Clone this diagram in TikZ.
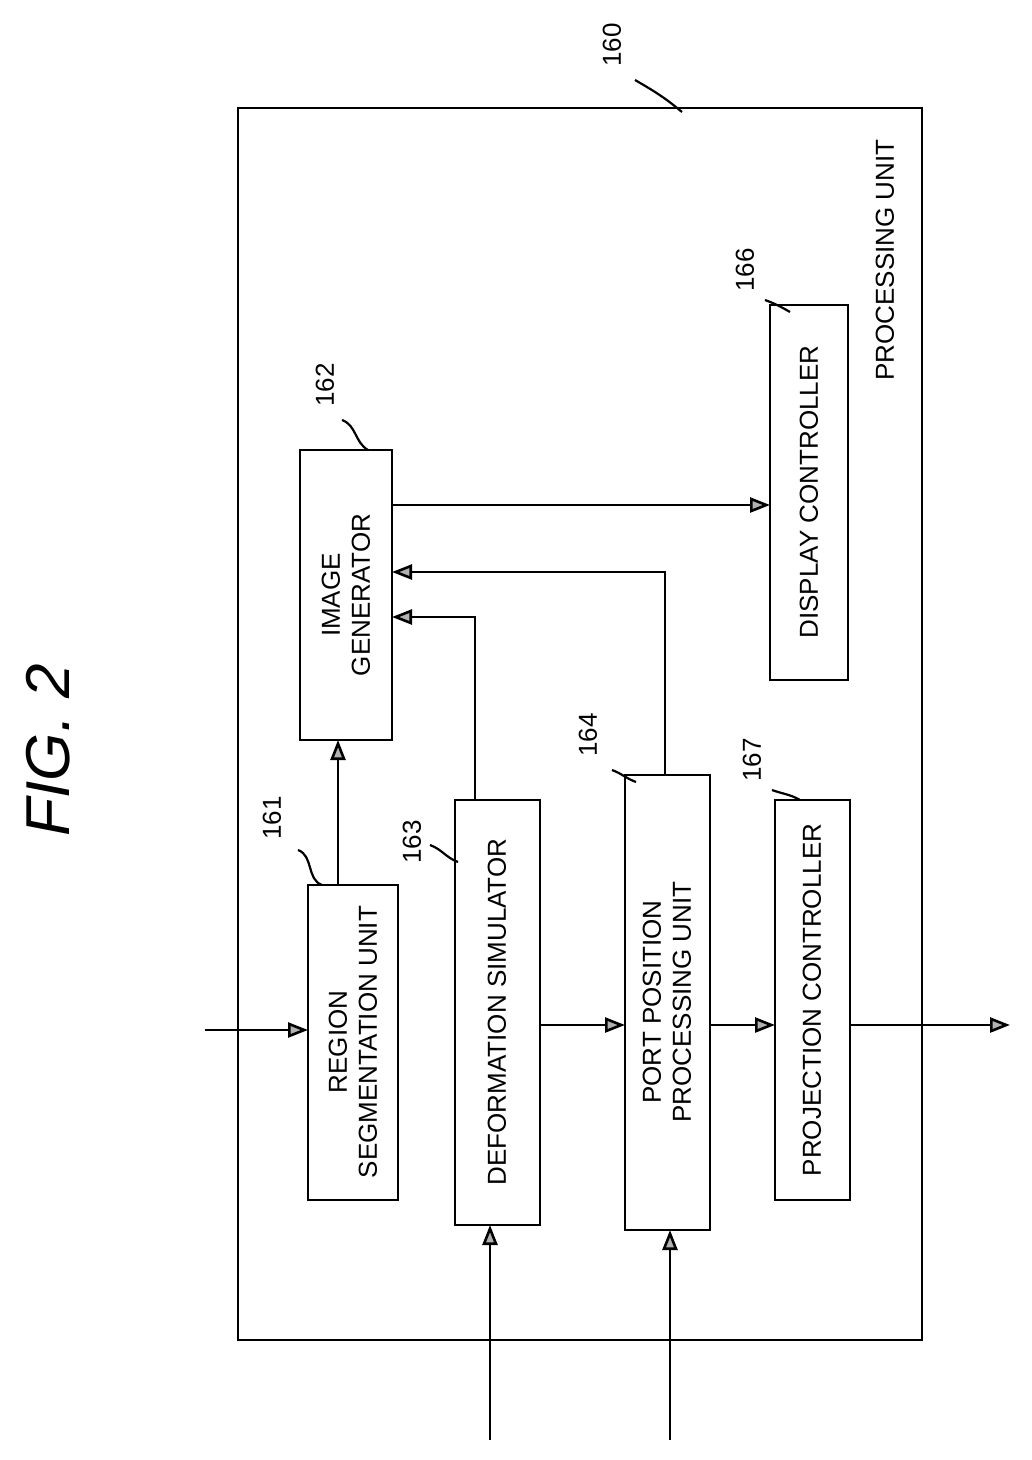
\documentclass[tikz,border=0pt]{standalone}
\usepackage{fontspec}
\setmainfont{Liberation Sans}
\usetikzlibrary{arrows.meta}
\begin{document}
\begin{tikzpicture}[x=1pt,y=-1pt,
  blk/.style={draw,line width=2.8pt},
  txt/.style={rotate=90,align=center,font=\fontsize{26}{30}\selectfont},
  num/.style={rotate=90,font=\fontsize{26}{30}\selectfont},
  lead/.style={line width=2.2pt},
  flow/.style={line width=2.6pt,-{Triangle[fill=gray!60,length=20pt,width=15pt]}}
  ]
  \useasboundingbox (0,0) rectangle (1032,1460);
  \node[rotate=90,font=\itshape\fontsize{62}{66}\selectfont] (fig) at (48,750) {FIG. 2};
  % outer unit
  \draw[blk] (238,108) rectangle (922,1340);
  \node[txt] (pu) at (885,260) {PROCESSING UNIT};
  \node[num] (n160) at (612,45) {160};
  \draw[lead] (635,80) to[out=-30,in=140] (682,112);
  % blocks
  \draw[blk] (308,885) rectangle (398,1200);
  \node[txt] (seg) at (353,1042) {REGION\\SEGMENTATION UNIT};
  \node[num] (n161) at (272,818) {161};
  \draw[lead] (298,850) to[out=-20,in=160] (322,885);
  \draw[blk] (300,450) rectangle (392,740);
  \node[txt] (gen) at (346,595) {IMAGE\\GENERATOR};
  \node[num] (n162) at (325,385) {162};
  \draw[lead] (342,420) to[out=-20,in=150] (368,450);
  \draw[blk] (455,800) rectangle (540,1225);
  \node[txt] (sim) at (497,1012) {DEFORMATION SIMULATOR};
  \node[num] (n163) at (412,842) {163};
  \draw[lead] (430,845) to[out=-20,in=160] (458,862);
  \draw[blk] (625,775) rectangle (710,1230);
  \node[txt] (port) at (667,1002) {PORT POSITION\\PROCESSING UNIT};
  \node[num] (n164) at (588,735) {164};
  \draw[lead] (612,770) to[out=-20,in=160] (636,782);
  \draw[blk] (770,305) rectangle (848,680);
  \node[txt] (disp) at (809,492) {DISPLAY CONTROLLER};
  \node[num] (n166) at (745,270) {166};
  \draw[lead] (765,300) to[out=-20,in=150] (790,312);
  \draw[blk] (775,800) rectangle (850,1200);
  \node[txt] (proj) at (812,1000) {PROJECTION CONTROLLER};
  \node[num] (n167) at (752,760) {167};
  \draw[lead] (772,790) to[out=-20,in=150] (800,800);
  % connectors
  \coordinate (inA) at (205,1030);
  \coordinate (inB) at (490,1440);
  \coordinate (inC) at (670,1440);
  \coordinate (outA) at (1010,1025);
  \draw[flow] (inA) -- (308,1030);
  \draw[flow] (338,885) -- (338,740);
  \draw[flow] (392,505) -- (770,505);
  \draw[flow] (475,800) -- (475,617) -- (392,617);
  \draw[flow] (665,775) -- (665,572) -- (392,572);
  \draw[flow] (540,1025) -- (625,1025);
  \draw[flow] (710,1025) -- (775,1025);
  \draw[flow] (850,1025) -- (outA);
  \draw[flow] (inB) -- (490,1225);
  \draw[flow] (inC) -- (670,1230);
\end{tikzpicture}
\end{document}
